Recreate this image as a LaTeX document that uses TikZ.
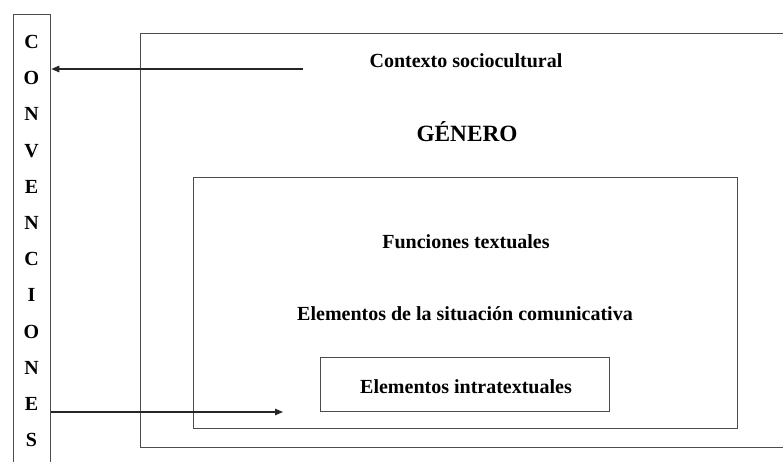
\documentclass[tikz,border=0pt]{standalone}
\usepackage{fontspec}
\setmainfont{Liberation Serif}
\usetikzlibrary{arrows.meta}
\tikzset{
  frame/.style={draw=black!70, line width=1.3pt, fill=none, inner sep=0pt, anchor=north west},
  lbl/.style={font=\bfseries\fontsize{20}{24}\selectfont, anchor=base, inner sep=0pt},
  big/.style={font=\bfseries\fontsize{23.3}{28}\selectfont, anchor=base, inner sep=0pt},
  link/.style={draw=black!85, line width=1.3pt, -{Triangle[length=8pt,width=6.5pt]}}
}
\begin{document}
\begin{tikzpicture}[x=1pt,y=-1pt]
\useasboundingbox (0,0) rectangle (783,462);
\clip (0,0) rectangle (783,462);
% left column
\node[frame, minimum width=37pt, minimum height=480pt] (conv) at (13,14) {};
\node[font=\bfseries\fontsize{20}{36.2}\selectfont, align=center, anchor=north, inner sep=0pt] (letters) at (31.5,35)
  {C\\O\\N\\V\\E\\N\\C\\I\\O\\N\\E\\S};
% outer (genre) box
\node[frame, minimum width=700pt, minimum height=414pt] (genero) at (140,33) {};
% inner box
\node[frame, minimum width=544pt, minimum height=251pt] (inner) at (193,177) {};
% innermost box
\node[frame, minimum width=289pt, minimum height=54pt] (intra) at (320,357) {};
% texts
\node[lbl] (ctx) at (466,68) {Contexto sociocultural};
\node[big] (gen) at (467,142) {GÉNERO};
\node[lbl] (fun) at (466,248) {Funciones textuales};
\node[lbl] (sit) at (465,320) {Elementos de la situación comunicativa};
\node[lbl] (intxt) at (466,393) {Elementos intratextuales};
% arrows
\coordinate (a1) at (303,69);
\coordinate (a2) at (283,412);
\draw[link] (a1) -- (conv.east |- a1);
\draw[link] (conv.east |- a2) -- (a2);
\end{tikzpicture}
\end{document}
